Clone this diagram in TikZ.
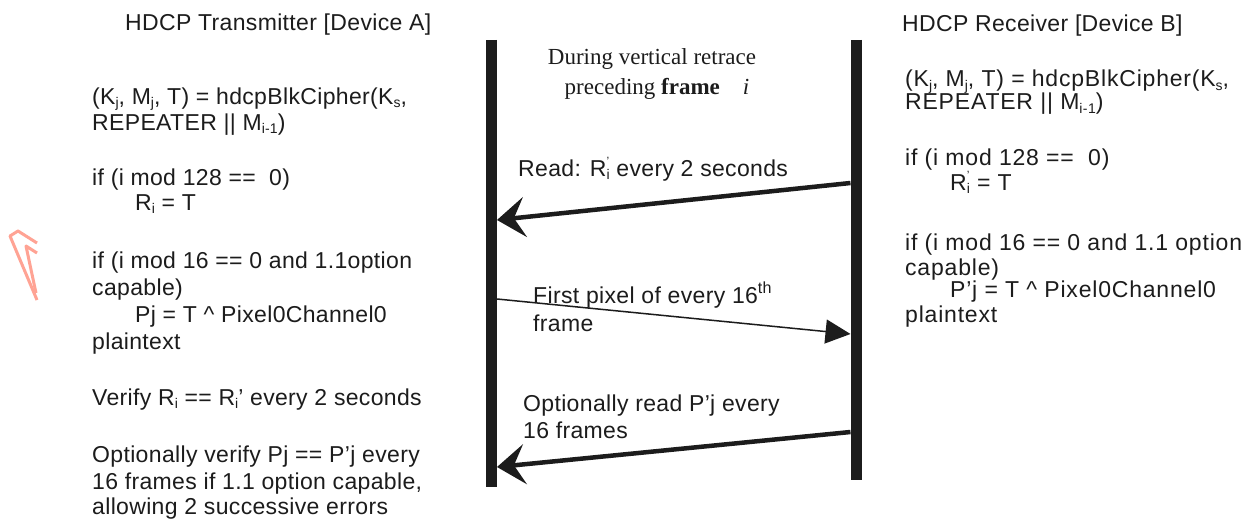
\documentclass[tikz,border=0pt]{standalone}
\usepackage{fontspec}
\setmainfont{Liberation Sans}
\newfontfamily\timesfont{Liberation Serif}
\usetikzlibrary{arrows.meta}
\definecolor{Ink}{HTML}{1C1C1C}
\definecolor{Salmon}{HTML}{FFA394}
\newcommand{\sbs}[1]{\raisebox{-0.25ex}{\fontsize{14}{14}\selectfont #1}}
\newcommand{\prsb}[1]{\rlap{\raisebox{0.9ex}{\fontsize{12}{12}\selectfont '}}\sbs{#1}}

\begin{document}
\begin{tikzpicture}[x=1pt,y=-1pt,
  txt/.style={anchor=base west,inner sep=0pt,font=\fontsize{23}{27}\selectfont\addfontfeatures{LetterSpace=1.5},text=Ink},
  wide/.style={txt,font=\fontsize{23}{27}\selectfont\addfontfeatures{LetterSpace=3.5}},
  retrace/.style={anchor=base,inner sep=0pt,font=\timesfont\fontsize{23}{26}\selectfont,text=Ink},
  lifeline/.style={line width=11pt,Ink},
  msg/.style={line width=4.5pt,Ink,-{Stealth[length=28pt,width=40pt,inset=11pt]}},
  pix/.style={line width=1.5pt,Ink,-{Triangle[length=25pt,width=24pt]}},
  scribble/.style={Salmon,line width=3pt,line join=round}
]
\useasboundingbox (0,0) rectangle (1248,519);
\fill[white] (0,0) rectangle (1248,519);

% stray pen mark on the left edge
\draw[scribble] (37,300)--(10,236)--(18,231)--(37,243);
\draw[scribble] (37,253)--(26,246)--(36,293);

% lifelines of the two devices
\coordinate (Atop) at (491.5,40);
\coordinate (Abot) at (491.5,487);
\coordinate (Btop) at (856,40);
\coordinate (Bbot) at (856,480);
\draw[lifeline] (Atop)--(Abot);
\draw[lifeline] (Btop)--(Bbot);

% message end points on the lifelines
\coordinate (rdRs) at (850.5,183);
\coordinate (rdRe) at (497,220);
\coordinate (pixs) at (497,299);
\coordinate (pixe) at (850.5,334);
\coordinate (rdPs) at (850.5,432);
\coordinate (rdPe) at (497,467);
\draw[msg] (rdRs)--(rdRe);
\draw[pix] (pixs)--(pixe);
\draw[msg] (rdPs)--(rdPe);

% retrace caption
\node[retrace] (cap1) at (652,65) {During vertical retrace};
\node[retrace] (cap2) at (657,95) {preceding \textbf{frame}\quad\textit{i}};

% message labels
\node[txt] (lbRd) at (518,176) {Read: R\prsb{i} every 2 seconds};
\node[txt] (lbPx1) at (533,303) {First pixel of every 16\textsuperscript{th}};
\node[txt] (lbPx2) at (533,331) {frame};
\node[txt] (lbOp1) at (523,411) {Optionally read P'j every};
\node[txt] (lbOp2) at (523,438) {16 frames};

% transmitter side
\node[txt] (txHead) at (125,31) {HDCP Transmitter [Device A]};
\node[txt] (tx1) at (92,104) {(K\sbs{j}, M\sbs{j}, T) = hdcpBlkCipher(K\sbs{s},};
\node[txt] (tx2) at (92,130) {REPEATER || M\sbs{i-1})};
\node[txt] (tx3) at (92,185) {if (i mod 128 ==\ \ 0)};
\node[txt] (tx4) at (135,210) {R\sbs{i} = T};
\node[txt] (tx5) at (92,268) {if (i mod 16 == 0 and 1.1option};
\node[txt] (tx6) at (92,295) {capable)};
\node[txt] (tx7) at (135,322) {Pj = T \textasciicircum{} Pixel0Channel0};
\node[txt] (tx8) at (92,349) {plaintext};
\node[txt] (tx9) at (92,405) {Verify R\sbs{i} == R\sbs{i}' every 2 seconds};
\node[txt] (tx10) at (92,462) {Optionally verify Pj == P'j every};
\node[txt] (tx11) at (92,489) {16 frames if 1.1 option capable,};
\node[txt] (tx12) at (92,514) {allowing 2 successive errors};

% receiver side
\node[txt] (rxHead) at (902,32) {HDCP Receiver [Device B]};
\node[wide] (rx1) at (905,87) {(K\sbs{j}, M\sbs{j}, T) = hdcpBlkCipher(K\sbs{s},};
\node[wide] (rx2) at (905,110) {REPEATER || M\sbs{i-1})};
\node[wide] (rx3) at (905,165) {if (i mod 128 ==\ \ 0)};
\node[wide] (rx4) at (950,190) {R\prsb{i} = T};
\node[wide] (rx5) at (905,250) {if (i mod 16 == 0 and 1.1 option};
\node[wide] (rx6) at (905,275) {capable)};
\node[wide] (rx7) at (950,297) {P'j = T \textasciicircum{} Pixel0Channel0};
\node[wide] (rx8) at (905,322) {plaintext};
\end{tikzpicture}
\end{document}
